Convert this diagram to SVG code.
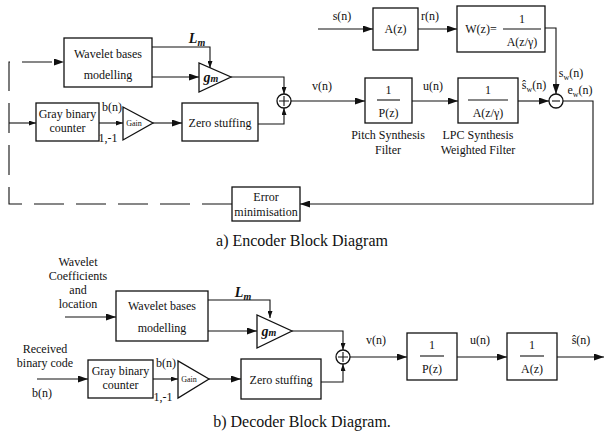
<svg xmlns="http://www.w3.org/2000/svg" width="605" height="432" viewBox="0 0 605 432">
<defs>
<marker id="ah" markerUnits="userSpaceOnUse" markerWidth="10" markerHeight="7" refX="10" refY="3.5" orient="auto"><path d="M0,0 L10,3.5 L0,7 z" fill="#111"/></marker>
<marker id="as" markerUnits="userSpaceOnUse" markerWidth="7" markerHeight="5" refX="7" refY="2.5" orient="auto"><path d="M0,0 L7,2.5 L0,5 z" fill="#111"/></marker>
</defs>
<style>
.b{fill:#fff;stroke:#111;stroke-width:1.3}
.w{fill:none;stroke:#111;stroke-width:1.1}
.d{fill:none;stroke:#111;stroke-width:1.1;stroke-dasharray:30 12}
text{font-family:"Liberation Serif","Times New Roman",serif;font-size:12px;fill:#111;text-anchor:middle}
.i{font-style:italic;font-weight:bold;font-size:14px}
.s{font-size:8px}
.c{font-size:16px}
</style>
<g id="connectors">
<path class="w" d="M152,47 H210 V68" marker-end="url(#as)"/>
<path class="w" d="M152,77 H199" marker-end="url(#ah)"/>
<path class="w" d="M231,77 H284 V94" marker-end="url(#as)"/>
<path class="w" d="M99,123 H123" marker-end="url(#as)"/>
<path class="w" d="M153,123 H182" marker-end="url(#ah)"/>
<path class="w" d="M258,124 H284 V108" marker-end="url(#as)"/>
<path class="w" d="M291,101 H365" marker-end="url(#ah)"/>
<path class="w" d="M412,101 H458" marker-end="url(#ah)"/>
<path class="w" d="M518,101 H549" marker-end="url(#ah)"/>
<path class="w" d="M318,29 H373" marker-end="url(#ah)"/>
<path class="w" d="M418,29 H457" marker-end="url(#ah)"/>
<path class="w" d="M545,28 H556 V94" marker-end="url(#ah)"/>
<path class="w" d="M563,101 H593 V204 H300" marker-end="url(#ah)"/>
<path class="d" d="M232,204 H9 V62 H64" marker-end="url(#ah)"/>
<path class="w" d="M9,123 H36" marker-end="url(#as)"/>
<path class="w" d="M65,317 H116" marker-end="url(#ah)"/>
<path class="w" d="M208,300 H270 V318" marker-end="url(#as)"/>
<path class="w" d="M208,331 H257" marker-end="url(#ah)"/>
<path class="w" d="M292,331 H343 V350" marker-end="url(#as)"/>
<path class="w" d="M37,379 H88" marker-end="url(#ah)"/>
<path class="w" d="M153,379 H178" marker-end="url(#as)"/>
<path class="w" d="M209,379 H241" marker-end="url(#ah)"/>
<path class="w" d="M321,382 H343 V364" marker-end="url(#as)"/>
<path class="w" d="M350,357 H407" marker-end="url(#ah)"/>
<path class="w" d="M457,357 H507" marker-end="url(#ah)"/>
<path class="w" d="M557,357 H604" marker-end="url(#ah)"/>
</g>
<g id="enc-wavelet"><rect class="b" x="64" y="38" width="88" height="49"/><text x="108" y="58">Wavelet bases</text><text x="108" y="79">modelling</text></g>
<g id="enc-lm"><text class="i" x="197" y="43">L<tspan font-size="10" dy="3">m</tspan></text></g>
<g id="enc-gm"><polygon class="b" points="199,63 199,92 231,77"/><text class="i" x="211" y="82">g<tspan font-size="10">m</tspan></text></g>
<g id="enc-sum"><circle class="b" cx="284" cy="101" r="7"/><path class="w" d="M279,101 H289 M284,96 V106"/></g>
<g id="enc-gray"><rect class="b" x="36" y="103" width="63" height="38"/><text x="67.5" y="118">Gray binary</text><text x="67.5" y="132">counter</text><text x="112" y="111">b(n)</text></g>
<g id="enc-gain"><polygon class="b" points="123,107 123,140 153,123"/><text class="s" x="134" y="126">Gain</text><text x="108" y="142">1,-1</text></g>
<g id="enc-zero"><rect class="b" x="182" y="103" width="76" height="38"/><text x="220" y="127">Zero stuffing</text></g>
<g id="enc-pitch"><rect class="b" x="365" y="78" width="47" height="45"/><text x="388.5" y="94">1</text><path class="w" d="M377,100 H400"/><text x="388.5" y="117">P(z)</text><text x="388" y="139">Pitch Synthesis</text><text x="388" y="154">Filter</text><text x="322" y="90">v(n)</text></g>
<g id="enc-lpc"><rect class="b" x="458" y="78" width="60" height="45"/><text x="488" y="94">1</text><path class="w" d="M468,100 H508"/><text x="488" y="117">A(z/γ)</text><text x="478" y="139">LPC Synthesis</text><text x="478" y="154">Weighted Filter</text><text x="433" y="90">u(n)</text></g>
<g id="enc-az"><rect class="b" x="373" y="8" width="45" height="42"/><text x="395.5" y="33">A(z)</text><text x="342" y="20">s(n)</text><text x="430" y="20">r(n)</text></g>
<g id="enc-w"><rect class="b" x="457" y="6" width="88" height="46"/><text x="481" y="33">W(z)=</text><text x="522" y="23">1</text><path class="w" d="M503,29 H541"/><text x="522" y="46">A(z/γ)</text></g>
<g id="enc-sub"><circle class="b" cx="556" cy="101" r="7"/><path class="w" d="M552,101 H560"/><text x="571" y="77">s<tspan font-size="8" dy="3">w</tspan><tspan dy="-3">(n)</tspan></text><text x="534" y="89">ŝ<tspan font-size="8" dy="3">w</tspan><tspan dy="-3">(n)</tspan></text><text x="580" y="94">e<tspan font-size="8" dy="3">w</tspan><tspan dy="-3">(n)</tspan></text></g>
<g id="enc-error"><rect class="b" x="232" y="187" width="68" height="34"/><text x="266" y="201">Error</text><text x="266" y="216">minimisation</text></g>
<text class="c" x="302" y="246">a) Encoder Block Diagram</text>
<g id="dec-input"><text x="78" y="266">Wavelet</text><text x="78" y="280">Coefficients</text><text x="78" y="294">and</text><text x="78" y="308">location</text></g>
<g id="dec-wavelet"><rect class="b" x="116" y="291" width="92" height="50"/><text x="162" y="310">Wavelet bases</text><text x="162" y="332">modelling</text><text class="i" x="243" y="297">L<tspan font-size="10" dy="3">m</tspan></text></g>
<g id="dec-gm"><polygon class="b" points="257,315 257,348 292,331"/><text class="i" x="269" y="336">g<tspan font-size="10">m</tspan></text></g>
<g id="dec-sum"><circle class="b" cx="343" cy="357" r="7"/><path class="w" d="M338,357 H348 M343,352 V362"/></g>
<g id="dec-recv"><text x="45" y="353">Received</text><text x="45" y="367">binary code</text><text x="42" y="397">b(n)</text></g>
<g id="dec-gray"><rect class="b" x="88" y="360" width="65" height="38"/><text x="120.5" y="375">Gray binary</text><text x="120.5" y="389">counter</text><text x="166" y="367">b(n)</text></g>
<g id="dec-gain"><polygon class="b" points="178,361 178,398 209,379"/><text class="s" x="189" y="382">Gain</text><text x="163" y="401">1,-1</text></g>
<g id="dec-zero"><rect class="b" x="241" y="359" width="80" height="40"/><text x="281" y="384">Zero stuffing</text></g>
<g id="dec-pitch"><rect class="b" x="407" y="333" width="50" height="47"/><text x="432" y="349">1</text><path class="w" d="M420,356 H444"/><text x="432" y="373">P(z)</text><text x="376" y="344">v(n)</text></g>
<g id="dec-lpc"><rect class="b" x="507" y="333" width="50" height="47"/><text x="532" y="349">1</text><path class="w" d="M520,356 H544"/><text x="532" y="373">A(z)</text><text x="480" y="344">u(n)</text><text x="581" y="344">ŝ(n)</text></g>
<text class="c" x="302" y="427">b) Decoder Block Diagram.</text>
</svg>
